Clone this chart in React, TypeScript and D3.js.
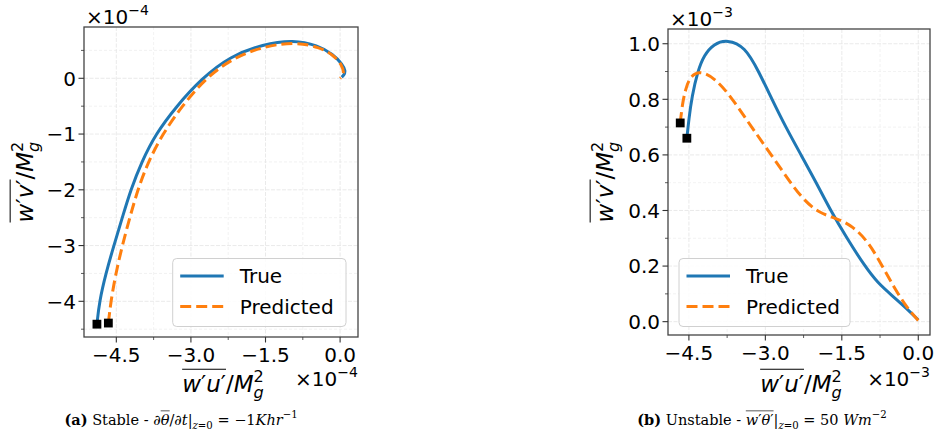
import React, { useEffect, useRef } from "react";
import * as d3 from "d3";

const W = 942;
const H = 436;

// (a) stable case, both axes in units of 1e-4
const stableTrueU = [-4.89, -4.84, -4.71, -4.55, -4.38, -4.21, -3.99, -3.71, -3.29, -2.78, -2.20, -1.55, -0.94, -0.45, -0.14, 0.05, 0.11, 0.08, 0.03];
const stableTrueV = [-4.41, -4.00, -3.50, -3.00, -2.50, -2.00, -1.50, -1.00, -0.50, 0.00, 0.40, 0.61, 0.69, 0.59, 0.43, 0.25, 0.13, 0.06, 0.02];
const stablePredU = [-4.66, -4.61, -4.51, -4.38, -4.23, -4.07, -3.86, -3.57, -3.18, -2.71, -2.13, -1.50, -0.90, -0.42, -0.12, 0.04, 0.08, 0.04, 0.00];
const stablePredV = [-4.39, -4.00, -3.50, -3.00, -2.50, -2.00, -1.50, -1.00, -0.50, 0.00, 0.38, 0.58, 0.65, 0.56, 0.41, 0.23, 0.10, 0.03, 0.00];

// (b) unstable case, both axes in units of 1e-3
const unstableTrueU = [-4.54, -4.50, -4.44, -4.33, -4.20, -4.01, -3.75, -3.40, -3.13, -2.87, -2.60, -2.30, -2.00, -1.72, -1.40, -1.05, -0.80, -0.49, -0.23, 0.00];
const unstableTrueV = [0.66, 0.73, 0.81, 0.90, 0.96, 1.00, 1.015, 0.99, 0.90, 0.80, 0.70, 0.60, 0.50, 0.40, 0.30, 0.20, 0.14, 0.09, 0.048, 0.006];
const unstablePredU = [-4.67, -4.63, -4.57, -4.48, -4.30, -3.98, -3.68, -3.37, -3.05, -2.62, -2.29, -1.95, -1.60, -1.28, -0.97, -0.70, -0.48, -0.23, 0.00];
const unstablePredV = [0.715, 0.78, 0.835, 0.88, 0.905, 0.875, 0.81, 0.727, 0.643, 0.53, 0.445, 0.39, 0.372, 0.343, 0.285, 0.198, 0.125, 0.052, 0.004];

const xTicks = [-4.5, -3.0, -1.5, 0.0];
const xMinor = [-3.75, -2.25, -0.75];
const stableYTicks = [-4, -3, -2, -1, 0];
const stableYMinor = [-4.5, -3.5, -2.5, -1.5, -0.5, 0.5];
const unstableYTicks = [0.0, 0.2, 0.4, 0.6, 0.8, 1.0];
const unstableYMinor = [0.1, 0.3, 0.5, 0.7, 0.9];
const legendLabels = ["True", "Predicted"];

const BLUE = "#1f77b4";
const ORANGE = "#ff7f0e";
const SANS = "DejaVu Sans";
const SERIF = "DejaVu Serif";

type Part = { t: string; italic?: boolean; bold?: boolean; sub?: boolean; sup?: boolean; ov?: boolean; stack?: boolean };

// lays out a little bit of "math" text with tspans, then draws one overline over the ov parts
function richText(parent: any, parts: Part[], o: { x: number; y: number; size: number; family: string; anchor?: string; rotate?: number }) {
  const g = parent.append("g").attr("transform", `translate(${o.x},${o.y}) rotate(${o.rotate ?? 0})`);
  const text = g.append("text").attr("font-family", o.family).attr("font-size", o.size).attr("fill", "#000");
  let level = 0;
  let prev: any = null;
  const nodes: any[] = [];
  parts.forEach((p) => {
    const target = p.sub ? -0.25 : p.sup ? 0.45 : 0;
    const ts = text.append("tspan").text(p.t).attr("font-size", p.sub || p.sup ? o.size * 0.7 : o.size);
    if (p.italic) ts.attr("font-style", "italic");
    if (p.bold) ts.attr("font-weight", "bold");
    const dy = -(target - level) * o.size;
    if (dy !== 0) ts.attr("dy", dy);
    level = target;
    if (p.stack && prev) ts.attr("dx", -prev.getComputedTextLength());
    prev = ts.node();
    nodes.push({ p, ts });
  });
  const bb = text.node().getBBox();
  const anchor = o.anchor ?? "start";
  const shift = anchor === "middle" ? -bb.width / 2 : anchor === "end" ? -bb.width : 0;
  text.attr("x", shift - bb.x);
  const ovs = nodes.filter((n) => n.p.ov).map((n) => n.ts.node().getBBox());
  if (ovs.length) {
    const x1 = d3.min(ovs, (b: any) => b.x) as number;
    const x2 = d3.max(ovs, (b: any) => b.x + b.width) as number;
    const yy = (d3.min(ovs, (b: any) => b.y) as number) - o.size * 0.08;
    g.append("line").attr("x1", x1).attr("x2", x2).attr("y1", yy).attr("y2", yy)
      .attr("stroke", "#000").attr("stroke-width", o.size * 0.045);
  }
  return g;
}

const fmtX = (d: number) => d3.format(".1f")(d).replace("-", "\u2212");
const fmtStableY = (d: number) => d3.format("d")(d).replace("-", "\u2212");
const fmtUnstableY = (d: number) => d3.format(".1f")(d);

const fluxLabel = (c: string): Part[] => [
  { t: "w", italic: true, ov: true }, { t: "\u2032", ov: true }, { t: c, italic: true, ov: true }, { t: "\u2032", ov: true },
  { t: "/" }, { t: "M", italic: true }, { t: "g", italic: true, sub: true }, { t: "2", sup: true, stack: true },
];

function drawPanel(svg: any, c: any) {
  const x = d3.scaleLinear().domain(c.xDomain).range([c.left, c.right]);
  const y = d3.scaleLinear().domain(c.yDomain).range([c.bottom, c.top]);
  const g = svg.append("g");

  // grid, minor then major
  const grid = g.append("g").attr("stroke-width", 0.8);
  c.xMinor.forEach((v: number) => grid.append("line").attr("x1", x(v)).attr("x2", x(v)).attr("y1", c.top).attr("y2", c.bottom).attr("stroke", "#efefef").attr("stroke-dasharray", "3,2"));
  c.yMinor.forEach((v: number) => grid.append("line").attr("y1", y(v)).attr("y2", y(v)).attr("x1", c.left).attr("x2", c.right).attr("stroke", "#efefef").attr("stroke-dasharray", "3,2"));
  c.xTicks.forEach((v: number) => grid.append("line").attr("x1", x(v)).attr("x2", x(v)).attr("y1", c.top).attr("y2", c.bottom).attr("stroke", "#e4e4e4").attr("stroke-dasharray", "4,1.5"));
  c.yTicks.forEach((v: number) => grid.append("line").attr("y1", y(v)).attr("y2", y(v)).attr("x1", c.left).attr("x2", c.right).attr("stroke", "#e4e4e4").attr("stroke-dasharray", "4,1.5"));

  const line = d3.line<number>().x((d, i) => x(c.trueU[i])).y((d, i) => y(c.trueV[i])).curve(d3.curveBasis);
  const linePred = d3.line<number>().x((d, i) => x(c.predU[i])).y((d, i) => y(c.predV[i])).curve(d3.curveBasis);

  g.append("path").attr("d", line(c.trueV)).attr("fill", "none").attr("stroke", BLUE).attr("stroke-width", 3);
  g.append("path").attr("d", linePred(c.predV)).attr("fill", "none").attr("stroke", ORANGE).attr("stroke-width", 3).attr("stroke-dasharray", "11,5");

  // start markers
  [[c.trueU[0], c.trueV[0]], [c.predU[0], c.predV[0]]].forEach(([u, v]) => {
    g.append("rect").attr("x", x(u) - 4.4).attr("y", y(v) - 4.4).attr("width", 8.8).attr("height", 8.8).attr("fill", "#000");
  });

  // frame
  g.append("rect").attr("x", c.left).attr("y", c.top).attr("width", c.right - c.left).attr("height", c.bottom - c.top)
    .attr("fill", "none").attr("stroke", "#444").attr("stroke-width", 1.3);

  // ticks
  const tk = g.append("g").attr("stroke", "#333").attr("stroke-width", 1.1);
  c.xTicks.forEach((v: number) => tk.append("line").attr("x1", x(v)).attr("x2", x(v)).attr("y1", c.bottom).attr("y2", c.bottom + 5.5));
  c.yTicks.forEach((v: number) => tk.append("line").attr("y1", y(v)).attr("y2", y(v)).attr("x1", c.left).attr("x2", c.left - 5.5));
  c.xMinor.forEach((v: number) => tk.append("line").attr("x1", x(v)).attr("x2", x(v)).attr("y1", c.bottom).attr("y2", c.bottom + 3).attr("stroke-width", 0.8));
  c.yMinor.filter((v: number) => y(v) > c.top && y(v) < c.bottom).forEach((v: number) => tk.append("line").attr("y1", y(v)).attr("y2", y(v)).attr("x1", c.left).attr("x2", c.left - 3).attr("stroke-width", 0.8));

  c.xTicks.forEach((v: number) => g.append("text").attr("x", x(v)).attr("y", c.bottom + 25).attr("text-anchor", "middle")
    .attr("font-family", SANS).attr("font-size", 20).attr("fill", "#000").text(fmtX(v)));
  c.yTicks.forEach((v: number) => g.append("text").attr("x", c.left - 8).attr("y", y(v) + 7.3).attr("text-anchor", "end")
    .attr("font-family", SANS).attr("font-size", 20).attr("fill", "#000").text(c.fmtY(v)));

  // offset texts
  const exp: Part[] = [{ t: "\u00d710" }, { t: "\u2212" + c.exp, sup: true }];
  richText(g, exp, { x: c.left + 2, y: c.top - 3, size: 20, family: SANS });
  richText(g, exp, { x: c.right, y: 386, size: 20, family: SANS, anchor: "end" });

  // axis labels
  richText(g, fluxLabel("u"), { x: (c.left + c.right) / 2 + 2, y: 392, size: 23, family: SANS, anchor: "middle" });
  richText(g, fluxLabel("v"), { x: c.ylabelX, y: (c.top + c.bottom) / 2, size: 23, family: SANS, anchor: "middle", rotate: -90 });

  // legend
  const lg = g.append("g");
  lg.append("rect").attr("x", c.legend[0]).attr("y", 258.5).attr("width", c.legend[1]).attr("height", 68).attr("rx", 4)
    .attr("fill", "#fff").attr("fill-opacity", 0.85).attr("stroke", "#d0d0d0").attr("stroke-width", 1);
  legendLabels.forEach((lab, i) => {
    const ly = 276 + i * 30.5;
    lg.append("line").attr("x1", c.legend[0] + 7.5).attr("x2", c.legend[0] + 51).attr("y1", ly).attr("y2", ly)
      .attr("stroke", i === 0 ? BLUE : ORANGE).attr("stroke-width", 3).attr("stroke-dasharray", i === 0 ? null : "11,5");
    lg.append("text").attr("x", c.legend[0] + 67).attr("y", ly + 7.3).attr("font-family", SANS).attr("font-size", 20)
      .attr("fill", "#000").text(lab);
  });

  const cap = richText(g, c.caption, { x: c.captionX, y: 425, size: 14.5, family: SERIF, anchor: "middle" });
  cap.attr("fill", "#111");
}

export default function App() {
  const ref = useRef<SVGSVGElement>(null);
  useEffect(() => {
    const svg = d3.select(ref.current);
    svg.selectAll("*").remove();
    svg.append("rect").attr("width", W).attr("height", H).attr("fill", "#fff");

    drawPanel(svg, {
      left: 84, right: 358, top: 27, bottom: 337,
      xDomain: [-5.15, 0.36], yDomain: [-4.64, 0.92],
      xTicks, xMinor, yTicks: stableYTicks, yMinor: stableYMinor, fmtY: fmtStableY,
      trueU: stableTrueU, trueV: stableTrueV, predU: stablePredU, predV: stablePredV,
      exp: "4", ylabelX: 33, legend: [172.7, 173.3], captionX: 181,
      caption: [
        { t: "(a)", bold: true }, { t: " Stable - \u2202" }, { t: "\u03b8", italic: true, ov: true }, { t: "/\u2202" }, { t: "t", italic: true },
        { t: "|" }, { t: "z", italic: true, sub: true }, { t: "=0", sub: true }, { t: " = \u22121" }, { t: "Khr", italic: true }, { t: "\u22121", sup: true },
      ],
    });
    drawPanel(svg, {
      left: 668, right: 930, top: 29, bottom: 335,
      xDomain: [-4.91, 0.23], yDomain: [-0.048, 1.053],
      xTicks, xMinor, yTicks: unstableYTicks, yMinor: unstableYMinor, fmtY: fmtUnstableY,
      trueU: unstableTrueU, trueV: unstableTrueV, predU: unstablePredU, predV: unstablePredV,
      exp: "3", ylabelX: 613, legend: [679, 171], captionX: 762,
      caption: [
        { t: "(b)", bold: true }, { t: " Unstable - " }, { t: "w", italic: true, ov: true }, { t: "\u2032", ov: true }, { t: "\u03b8", italic: true, ov: true }, { t: "\u2032", ov: true },
        { t: "|" }, { t: "z", italic: true, sub: true }, { t: "=0", sub: true }, { t: " = 50 " }, { t: "Wm", italic: true }, { t: "\u22122", sup: true },
      ],
    });
  }, []);

  return (
    <svg ref={ref} width={W} height={H} style={{ position: "absolute", left: 0, top: 0, display: "block" }} />
  );
}
